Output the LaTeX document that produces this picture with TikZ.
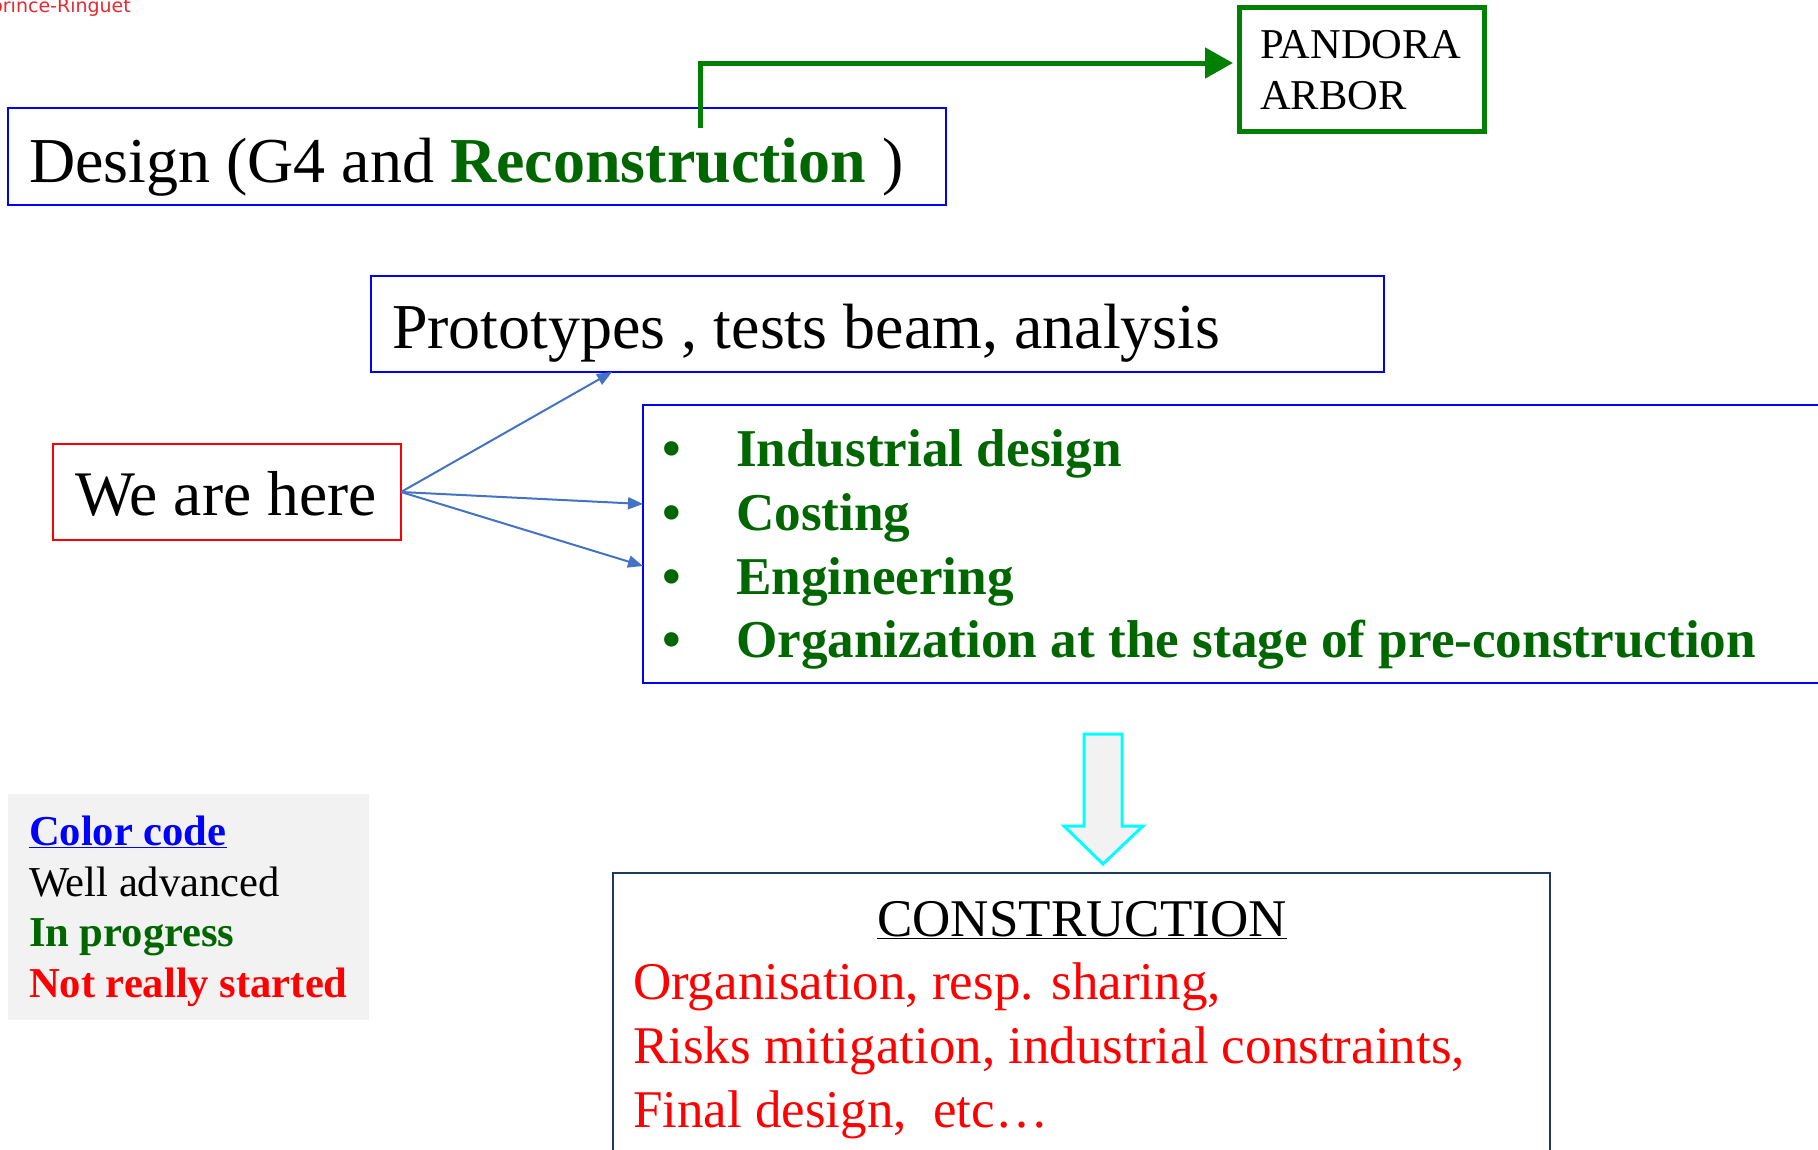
\documentclass[tikz,border=0pt]{standalone}
\usepackage{fontspec}
\setmainfont{Liberation Serif}
\newfontfamily\labsans{DejaVu Sans}
\usetikzlibrary{arrows.meta}

\definecolor{boxblue}{RGB}{0,0,255}
\definecolor{linkgreen}{RGB}{0,128,0}
\definecolor{txtgreen}{RGB}{0,102,0}
\definecolor{arrowblue}{RGB}{68,114,196}
\definecolor{navyframe}{RGB}{31,56,100}
\definecolor{keygray}{RGB}{242,242,242}
\definecolor{labred}{RGB}{232,40,48}
\definecolor{hotred}{RGB}{255,0,0}
\definecolor{cyanline}{RGB}{0,255,255}

\begin{document}
\begin{tikzpicture}[x=1pt,y=-1pt,
  frame/.style={draw, line width=2pt, anchor=north west, inner sep=0pt, outer sep=0pt},
  txt/.style={anchor=base west, inner sep=0pt, outer sep=0pt},
  bigfont/.style={font=\fontsize{64}{64}\selectfont},
  midfont/.style={font=\fontsize{53}{64}\selectfont},
  bulletfont/.style={font=\fontsize{53.2}{64}\selectfont\bfseries, text=txtgreen},
  keyfont/.style={font=\fontsize{42.6}{51}\selectfont},
  fanarrow/.style={draw=arrowblue, line width=2pt, -{Triangle[length=15pt,width=12pt]}},
]
\useasboundingbox (0,0) rectangle (1818,1149);

% header fragment
\node[anchor=base east, inner sep=0pt, text=labred, font=\labsans\fontsize{19}{20}\selectfont] (lab) at (131,12) {prince-Ringuet};

% design stage
\node[frame, draw=boxblue, minimum width=938pt, minimum height=97pt] (design) at (8,108) {};
\node[txt, bigfont] (designtxt) at (29,182) {Design (G4 and \textcolor{txtgreen}{\textbf{Reconstruction}} )};

% reconstruction software
\node[frame, draw=linkgreen, line width=5pt, minimum width=245pt, minimum height=124pt] (pandora) at (1239,7) {};
\node[txt, font=\fontsize{42.5}{51}\selectfont] (pandoratxt) at (1260,58) {PANDORA};
\node[txt, font=\fontsize{42.5}{51}\selectfont] (arbortxt) at (1260,109) {ARBOR};
\coordinate (designtap) at (700,128);
\draw[linkgreen, line width=5pt, -{Triangle[length=28pt,width=30pt]}]
  (designtap) |- ([yshift=6pt,xshift=-6pt]pandora.west);

% prototypes
\node[frame, draw=boxblue, minimum width=1013pt, minimum height=96pt] (proto) at (371,276) {};
\node[txt, bigfont] (prototxt) at (392,348) {Prototypes , tests beam, analysis};

% current position
\node[frame, draw=hotred, minimum width=348pt, minimum height=96pt] (here) at (53,444) {};
\node[txt, font=\fontsize{63.5}{64}\selectfont] (heretxt) at (75,515) {We are here};

% pre-construction work
\node[frame, draw=boxblue, minimum width=1300pt, minimum height=278pt] (bullets) at (643,405) {};
\foreach \y/\t [count=\i] in {466/Industrial design, 530/Costing, 594/Engineering, 657/Organization at the stage of pre-construction}{
  \node[anchor=base, inner sep=0pt, bulletfont] (dot\i) at (672,\y) {\textbullet};
  \node[txt, bulletfont] (item\i) at (736,\y) {\t};
}

% fan of arrows
\draw[fanarrow] (here.east) -- ([xshift=241pt]proto.south west);
\draw[fanarrow] (here.east) -- ([yshift=-99pt]bullets.north west);
\draw[fanarrow] (here.east) -- ([yshift=-161pt]bullets.north west);

% block arrow down to construction
\draw[cyanline, line width=3pt, fill=keygray, line join=miter]
  (1084,734) -- (1122,734) -- (1122,826) -- (1143,826) -- (1103,864)
  -- (1064,826) -- (1084,826) -- cycle;

% colour key
\node[anchor=north west, fill=keygray, minimum width=361pt, minimum height=226pt, inner sep=0pt] (key) at (8,794) {};
\node[txt, keyfont, text=boxblue] (key1) at (29,845) {\textbf{\underline{Color code}}};
\node[txt, keyfont] (key2) at (29,896) {Well advanced};
\node[txt, keyfont, text=txtgreen] (key3) at (29,946) {\textbf{In progress}};
\node[txt, keyfont, text=hotred] (key4) at (29,997) {\textbf{Not really started}};

% construction
\node[frame, draw=navyframe, line width=2.5pt, minimum width=937pt, minimum height=330pt] (constr) at (613,873) {};
\node[anchor=base, inner sep=0pt, midfont] (constrtitle) at (1082,936) {\underline{CONSTRUCTION}};
\node[txt, midfont, text=hotred] (c1) at (633,999) {Organisation, resp. sharing,};
\node[txt, midfont, text=hotred] (c2) at (633,1063) {Risks mitigation, industrial constraints,};
\node[txt, midfont, text=hotred] (c3) at (633,1127) {Final design,\ \ etc…};
\end{tikzpicture}
\end{document}
